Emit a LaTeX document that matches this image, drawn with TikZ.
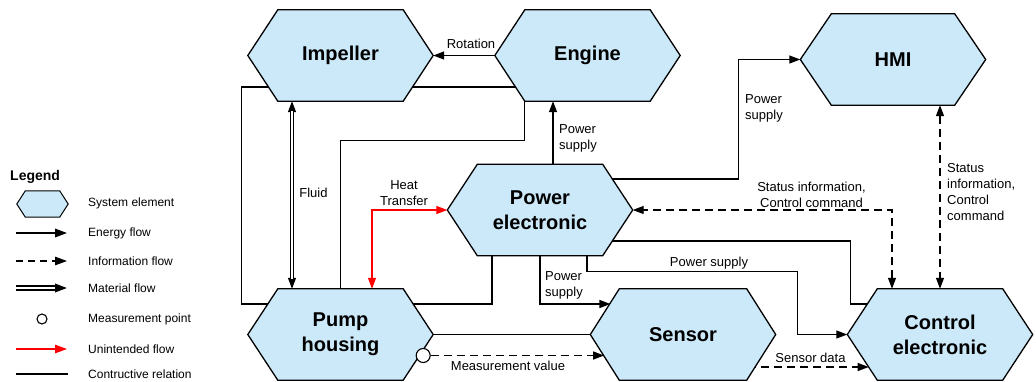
\documentclass[tikz,border=0pt]{standalone}
\usepackage{fontspec}
\setmainfont{Liberation Sans}
\usetikzlibrary{arrows.meta,calc}
\pgfdeclarelayer{lines}
\pgfdeclarelayer{hexes}
\pgfsetlayers{lines,hexes,main}
\definecolor{hexblue}{HTML}{CCE9FA}
\newcommand\hexagonfor[3]{\path[hexa,line width=#3] (#1.west) -- ($(#1.north west)+(#2,0)$) -- ($(#1.north east)+(-#2,0)$) -- (#1.east) -- ($(#1.south east)+(-#2,0)$) -- ($(#1.south west)+(#2,0)$) -- cycle;}
\tikzset{
  hexa/.style={fill=hexblue, draw=black, line join=miter},
  elem/.style={draw=none, minimum width=185pt, minimum height=91pt, inner sep=0pt, align=center, font=\bfseries\fontsize{20}{25}\selectfont},
  flow/.style={line width=1.3pt},
  info/.style={flow, dash pattern=on 8pt off 5pt},
  unint/.style={flow, red},
  con/.style={line width=1.3pt},
  lbl/.style={font=\fontsize{13}{16}\selectfont, inner sep=0pt},
  ltxt/.style={font=\fontsize{12}{14}\selectfont, inner sep=0pt, anchor=west},
  mpoint/.style={circle, draw=black, fill=white, line width=1.1pt, inner sep=0pt, minimum size=#1},
  legtip/.style={-{Triangle[length=12pt,width=8.5pt]}},
}
\begin{document}
\begin{tikzpicture}[x=1pt,y=-1pt,>={Triangle[length=11pt,width=8pt]}]
\useasboundingbox (0,0) rectangle (1036,381);
% system elements
\node[elem] (imp) at (340.5,55.5) {Impeller};
\node[elem] (eng) at (587.5,55.5) {Engine};
\node[elem] (hmi) at (893,59.5) {HMI};
\node[elem] (pe) at (540,210) {Power\\electronic};
\node[elem] (ph) at (340.5,334.5) {Pump\\housing};
\node[elem] (sen) at (683,334.5) {Sensor};
\node[elem] (ce) at (940,334.5) {Control\\electronic};
\node[mpoint=14pt] (mp) at ($(ph.east)+(-10,21)$) {};
% legend
\node[font=\bfseries\fontsize{14}{16}\selectfont, anchor=west, inner sep=0pt] (leg) at (10,176.5) {Legend};
\node[draw=none, minimum width=51pt, minimum height=26pt, inner sep=0pt] (lh) at (42.5,204) {};
\node[mpoint=10pt] (lmp) at (42,319) {};
\node[ltxt] (t1) at (88,203.5) {System element};
\node[ltxt] (t2) at (88,233) {Energy flow};
\node[ltxt] (t3) at (88,261) {Information flow};
\node[ltxt] (t4) at (88,288) {Material flow};
\node[ltxt] (t5) at (88,319) {Measurement point};
\node[ltxt] (t6) at (88,349) {Unintended flow};
\node[ltxt] (t7) at (88,374) {Contructive relation};
\coordinate (e1) at (16,233); \coordinate (e2) at (67,233);
\coordinate (i1) at (16,261); \coordinate (i2) at (67,261);
\coordinate (m1) at (16,288); \coordinate (m2) at (67,288);
\coordinate (u1) at (16,349); \coordinate (u2) at (67,349);
\coordinate (c1) at (16,374); \coordinate (c2) at (68,374);
% labels
\node[lbl] (lrot) at (471,43.5) {Rotation};
\node[lbl, anchor=west, align=left] (lps1) at (559,138.5) {Power\\supply};
\node[lbl, align=center] (lht) at (404,193.5) {Heat\\Transfer};
\node[lbl] (lfl) at (313.5,193) {Fluid};
\node[lbl, anchor=west, align=left] (lps2) at (745,108.5) {Power\\supply};
\node[lbl, align=center] (lsi1) at (811.5,194.5) {Status information,\\Control command};
\node[lbl, anchor=west, align=left] (lsi2) at (947,192) {Status\\information,\\Control\\command};
\node[lbl] (lps3) at (709,263) {Power supply};
\node[lbl, anchor=west, align=left] (lps4) at (545,285.5) {Power\\supply};
\node[lbl] (lmv) at (508,365.5) {Measurement value};
\node[lbl] (lsd) at (810.5,357.5) {Sensor data};
\begin{pgfonlayer}{hexes}
\hexagonfor{imp}{30}{1.3pt}
\hexagonfor{eng}{30}{1.3pt}
\hexagonfor{hmi}{31}{1.3pt}
\hexagonfor{pe}{30}{1.3pt}
\hexagonfor{ph}{30}{1.3pt}
\hexagonfor{sen}{29}{1.3pt}
\hexagonfor{ce}{30}{1.3pt}
\hexagonfor{lh}{8.5}{1pt}
\end{pgfonlayer}
\begin{pgfonlayer}{lines}
% constructive relations
\draw[con] ($(imp.center)+(0,31.5)$) -| ($(ph.west)+(-6,-30.5)$) -- ($(ph.center)+(0,-30.5)$);
\draw[con] ($(imp.center)+(0,31.5)$) -- ($(eng.center)+(0,31.5)$);
\draw[con] ($(eng.south west)+(30,0)$) -- ++(0,39) -| (ph.north);
\draw[con] ($(pe.south)+(-48,0)$) |- ($(ph.center)+(0,-30.5)$);
\draw[con] ($(pe.center)+(0,31)$) -| ($(ce.west)+(3,-30.5)$) -- ($(ce.center)+(0,-30.5)$);
\draw[con] (ph.east) -- (sen.west);
% energy flows
\draw[flow,->] (eng.west) -- (imp.east);
\draw[flow,->] ($(pe.north)+(13,0)$) coordinate (ps1) -- (ps1 |- eng.south);
\draw[flow,->] ($(pe.center)+(0,-31)$) -| ($(hmi.west)+(-62,0)$) -- (hmi.west);
\draw[flow,->] ($(pe.south)+(47,0)$) -- ++(0,16) -| ($(ce.west)+(-50,0)$) -- (ce.west);
\draw[flow,->] (pe.south) |- ($(sen.west)+(20.1,-30.5)$);
% material flow
\draw[flow,<->] ($(imp.south)+(-48.5,0)$) coordinate (f1) -- (f1 |- ph.north) coordinate (f2);
\draw[line width=1.5pt, double=white, double distance=1.5pt, shorten <=10pt, shorten >=10pt] (f1) -- (f2);
% unintended flow
\draw[unint,<->] ($(ph.north)+(31.5,0)$) |- (pe.west);
% information flows
\draw[info,<->] ($(ce.north)+(-48,0)$) |- (pe.east);
\draw[info,<->] (hmi.south -| ce.north) -- (ce.north);
\draw[info,->] (mp.east) -- ($(sen.west)+(13.8,21)$);
\draw[info,->] ($(sen.center)+(0,32.5)$) -- ($(ce.west)+(21.4,32.5)$);
% legend lines
\draw[line width=1.8pt,legtip] (e1) -- (e2);
\draw[line width=1.1pt, dash pattern=on 7pt off 5pt,legtip] (i1) -- (i2);
\draw[line width=2pt,legtip] (m1) -- (m2);
\draw[line width=2.1pt, double=white, double distance=1.2pt, shorten >=12pt] (m1) -- (m2);
\draw[line width=1.1pt, red, legtip] (u1) -- (u2);
\draw[line width=1.1pt] (c1) -- (c2);
\end{pgfonlayer}
\end{tikzpicture}
\end{document}
